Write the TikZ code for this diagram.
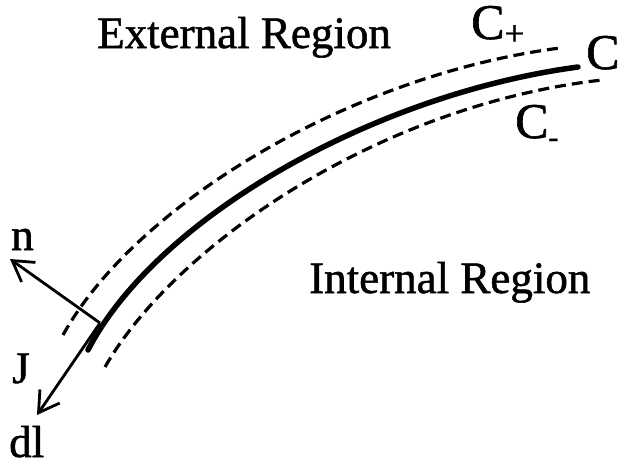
\documentclass[tikz,border=0pt]{standalone}
\usepackage{fontspec}
\setmainfont[FakeBold=1.2,AutoFakeBold=1.2]{Liberation Serif}
\usetikzlibrary{arrows.meta}

\begin{document}
\begin{tikzpicture}[
    x=1pt, y=-1pt,
    label/.style={anchor=base west, inner sep=0pt, font=\fontsize{45}{50}\selectfont\bfseries},
    curvelabel/.style={anchor=base west, inner sep=0pt, font=\fontsize{50}{55}\selectfont\bfseries},
    contour/.style={line width=5.5pt, line cap=round},
    offset/.style={line width=3.2pt, dash pattern=on 11pt off 6pt},
    arrow/.style={-{Straight Barb[length=20pt, width=24pt, line width=2.8pt]}, line width=2.8pt}
]
\useasboundingbox (0,0) rectangle (626,466);
% contour C and the two dashed copies
\draw[contour] (88,350) .. controls (155,220) and (370,95) .. (578,67);
\draw[offset] (63,335) .. controls (135,205) and (350,75) .. (560,48);
\draw[offset] (105,367) .. controls (175,245) and (380,105) .. (602,80);
\coordinate (foot) at (100,323);
\coordinate (ntip) at (10,259);
\coordinate (dltip) at (37,415);
\draw[arrow] (foot) -- (ntip);
\draw[arrow] (foot) -- (dltip);
% labels
\node[label] (ext) at (97,48) {External Region};
\node[label] (int) at (309,293) {Internal Region};
\node[curvelabel] (cplus) at (471,39) {C\raisebox{-6pt}{\fontsize{35}{35}\selectfont +}};
\node[curvelabel] (cc) at (586,69) {C};
\node[curvelabel] (cminus) at (515,138) {C\raisebox{-9pt}{\fontsize{30}{30}\selectfont -}};
\node[label] (nlab) at (11,250) {n};
\node[label] (jlab) at (12,383) {J};
\node[label] (dllab) at (9,457) {dl};
\end{tikzpicture}
\end{document}
